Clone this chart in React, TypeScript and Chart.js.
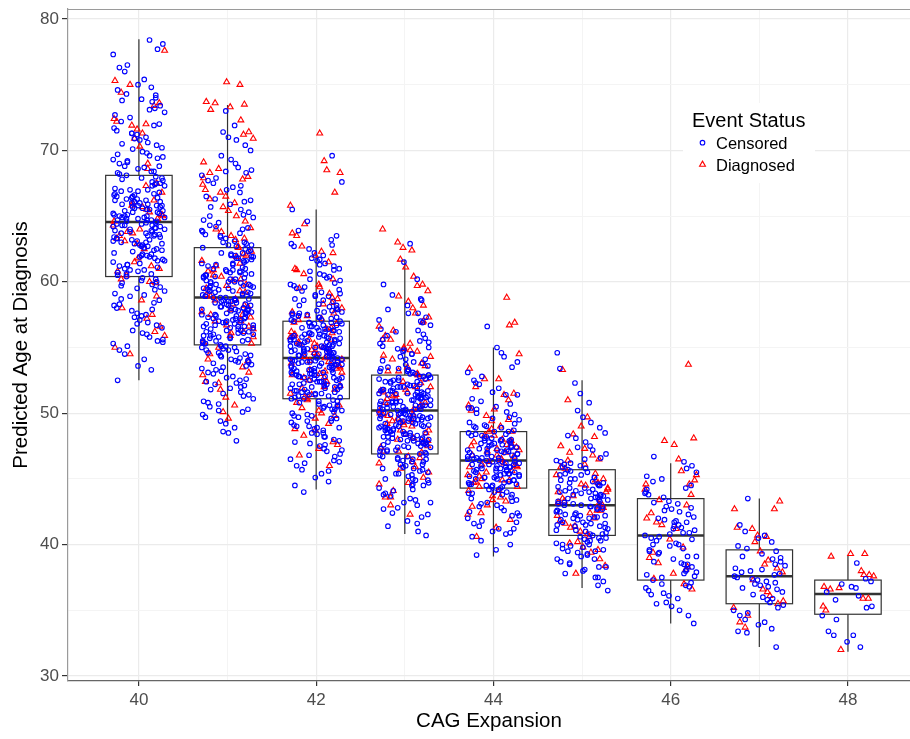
import React, { useEffect, useRef } from 'react';
import { Chart, registerables } from 'chart.js';

Chart.register(...registerables);

const FONT = "'Liberation Sans', Arial, Helvetica, sans-serif";

const CATEGORIES = [40, 41, 42, 43, 44, 45, 46, 47, 48];
const BOX_LOWER = [52.5, 49.2, 44.2, 40.8, 39.1, 36.7, 34.0, 32.2, 31.85];
const BOX_Q1 = [60.4, 55.2, 51.1, 46.9, 44.3, 40.7, 37.3, 35.5, 34.7];
const BOX_MEDIAN = [64.55, 58.8, 54.2, 50.2, 46.4, 43.0, 40.7, 37.6, 36.25];
const BOX_Q3 = [68.1, 62.6, 57.0, 52.9, 48.6, 45.7, 43.5, 39.6, 37.3];
const BOX_UPPER = [78.45, 73.45, 65.5, 61.7, 55.0, 52.5, 46.2, 43.5, 39.2];

const X_TICKS = [40, 42, 44, 46, 48];
const Y_TICKS = [30, 40, 50, 60, 70, 80];

// hand-read horizontal jitter offsets (in CAG units)
const JITTER = [0.12, -0.25, 0.03, 0.27, -0.08, -0.19, 0.21, -0.02, 0.15, -0.29, 0.08, 0.24, -0.13, -0.05, 0.18, -0.22, 0.01, 0.29, -0.16, 0.1, -0.27, 0.06, 0.2, -0.1, -0.01, 0.26, -0.2, 0.14, -0.07, 0.23, -0.24, 0.04, 0.17, -0.14, 0.09, -0.28, 0.19];

const CENSORED_40 = [78.4,78.1,77.7,77.3,76.5,76.3,76.0,75.4,75.0,74.8,74.6,74.3,74.2,73.9,73.8,73.7,73.4,73.2,72.9,72.7,72.5,72.2,72.0,71.9,71.7,71.5,71.3,71.2,71.0,70.9,70.8,70.6,70.4,70.2,70.1,69.9,69.8,69.6,69.5,69.4,69.3,69.1,69.0,68.8,68.7,68.6,68.4,68.3,68.1,68.0,67.9,67.8,67.6,67.5,67.4,67.3,67.1,67.0,66.9,66.8,66.7,66.6,66.5,66.4,66.3,66.2,66.1,66.0,65.9,65.8,65.8,65.7,65.6,65.5,65.5,65.4,65.3,65.2,65.1,65.0,65.0,64.9,64.8,64.7,64.7,64.6,64.5,64.4,64.3,64.3,64.2,64.1,64.0,63.9,63.8,63.7,63.6,63.5,63.4,63.3,63.2,63.1,63.0,62.9,62.8,62.7,62.5,62.4,62.3,62.1,62.0,61.9,61.7,61.6,61.5,61.3,61.2,61.0,60.9,60.8,60.6,60.5,60.4,60.2,60.1,59.9,59.8,59.6,59.4,59.3,59.1,58.9,58.7,58.6,58.4,58.2,58.0,57.8,57.6,57.5,57.3,57.1,56.9,56.7,56.5,56.3,56.1,56.0,55.8,55.6,55.5,55.3,55.1,54.8,54.5,54.1,53.6,53.3,52.5];
const CENSORED_40_MORE = [66.3,64.1,62.7,65.9,67.3,63.4,61.8,64.9,66.7,60.9,63.0,65.2,68.4,62.2,64.4,66.0,59.5,63.7,65.6,61.4,67.0,64.6,62.9,66.5,60.3,65.0,63.2,67.7,61.1,64.2,69.2,58.3,65.4,62.6,66.9,63.9,60.7,64.8,67.5,62.0,70.5,57.9,65.7,63.6,61.6,66.2,64.0,59.7,68.8,62.4,65.1,63.3,71.3,56.8,64.5,66.6,61.9,63.5,60.0,67.9,65.3,62.8,64.7,73.1,55.4,66.4,63.1,61.3,68.2,64.3,59.0,65.8,62.1,69.7,60.6,74.0,57.4,64.9,63.8,66.1];
const DIAGNOSED_40 = [77.6,75.3,75.0,74.4,73.6,73.4,72.4,72.2,71.9,71.6,72.0,70.9,70.3,68.6,67.5,66.8,66.0,65.7,65.5,65.3,65.0,64.8,64.3,63.8,63.5,63.1,62.5,61.8,61.2,60.8,60.5,59.9,58.6,58.0,57.5,56.6,56.2,55.9,55.0,54.5,60.2,61.0];
const DIAGNOSED_40_MORE = [66.2,64.6,63.3,65.8,62.9,67.3,61.5,64.0,69.0,58.9,65.1,63.7,71.3,57.2,60.0];

const CENSORED_41 = [73.0,71.9,71.4,71.0,70.8,70.4,70.0,69.6,69.3,69.0,68.7,68.5,68.3,68.1,67.9,67.7,67.5,67.2,67.0,66.8,66.5,66.3,66.1,65.9,65.7,65.5,65.3,65.1,64.9,64.7,64.5,64.3,64.1,64.0,63.8,63.6,63.5,63.3,63.1,63.0,62.8,62.7,62.5,62.4,62.2,62.1,62.0,61.8,61.7,61.6,61.4,61.3,61.2,61.0,60.9,60.8,60.7,60.5,60.4,60.3,60.2,60.0,59.9,59.8,59.7,59.6,59.5,59.4,59.3,59.2,59.1,59.0,58.9,58.8,58.8,58.7,58.6,58.5,58.4,58.3,58.2,58.1,58.0,57.9,57.8,57.7,57.6,57.5,57.4,57.3,57.2,57.1,57.0,56.9,56.8,56.7,56.6,56.5,56.4,56.3,56.2,56.1,56.0,55.9,55.8,55.7,55.6,55.5,55.4,55.3,55.2,55.1,55.0,54.9,54.8,54.7,54.5,54.4,54.3,54.1,54.0,53.9,53.7,53.6,53.4,53.3,53.1,53.0,52.8,52.7,52.5,52.4,52.2,52.1,51.9,51.8,51.6,51.4,51.3,51.1,50.9,50.7,50.5,50.3,50.1,49.9,49.7,49.4,49.2,48.9,48.6,48.5,47.9,60.6,59.7,58.5,57.8,57.2,56.6,61.9,62.9,63.9,55.5,54.6,53.8];
const CENSORED_41_MORE = [59.3,57.6,60.8,56.2,58.4,61.5,55.8,59.9,57.1,62.3,58.0,56.7,60.3,54.6,59.6,57.8,61.1,55.5,58.9,63.4,56.9,60.0,53.5,58.2,61.8,57.3,59.1,55.1,62.0,58.6,56.4,60.6,52.6,57.9,64.2,59.4,56.0,61.3,58.3,54.2,60.1,57.5,63.0,55.7,59.7,52.0,58.7,61.6,56.5,60.4,57.0,65.0,54.0,59.0,62.6,55.3,58.1,60.9,56.8,51.5,59.5,57.4,61.0,66.2,53.2,58.5,60.2,56.1,62.8,57.7,55.0,59.8,50.8,58.8,61.4,56.3,63.7,54.8,59.2,57.2,60.7,55.9,67.3,53.9,58.0,61.9,56.6,50.2,59.3,57.9,62.2,55.4,60.5,54.4,68.4,58.6,56.9,60.0,52.3,57.6];
const DIAGNOSED_41 = [75.2,75.0,73.7,73.6,73.5,73.3,73.1,72.3,71.4,71.2,70.9,69.1,68.6,68.3,68.0,67.8,67.4,67.0,66.8,66.5,66.0,65.7,65.4,65.0,64.6,64.1,63.8,63.5,63.2,62.7,62.3,62.0,61.6,61.2,60.8,60.5,60.1,59.7,59.3,59.0,58.6,58.2,57.9,57.5,57.0,56.6,56.2,55.8,55.4,55.0,54.5,54.0,53.5,52.9,52.4,51.8,51.2,50.6,50.1,49.6];
const DIAGNOSED_41_MORE = [61.9,59.2,57.3,60.4,56.1,58.7,62.6,55.3,59.8,57.7,64.0,54.1,60.9,58.3,56.7,61.4,59.5,57.0,63.3,55.9,58.9,60.2,53.1,62.1,56.4,67.9,52.3,66.3,58.1,57.5];

const CENSORED_42 = [69.6,67.6,65.5,64.6,63.9,63.5,63.2,62.9,62.7,62.5,62.2,62.0,61.8,61.6,61.4,61.2,61.0,60.8,60.6,60.5,60.3,60.1,59.9,59.8,59.6,59.5,59.3,59.2,59.0,58.9,58.7,58.6,58.5,58.3,58.2,58.1,57.9,57.8,57.7,57.6,57.5,57.4,57.3,57.2,57.1,57.0,56.9,56.8,56.7,56.6,56.5,56.4,56.3,56.2,56.1,56.0,55.9,55.8,55.7,55.6,55.5,55.4,55.3,55.2,55.1,55.0,54.9,54.8,54.7,54.6,54.5,54.4,54.3,54.2,54.2,54.1,54.0,53.9,53.8,53.7,53.6,53.5,53.4,53.3,53.2,53.1,53.0,52.9,52.8,52.7,52.6,52.5,52.4,52.3,52.2,52.1,52.0,51.9,51.8,51.7,51.6,51.5,51.4,51.3,51.2,51.1,51.0,50.9,50.8,50.6,50.5,50.3,50.2,50.0,49.9,49.7,49.6,49.4,49.3,49.1,49.0,48.8,48.7,48.5,48.4,48.2,48.0,47.9,47.7,47.5,47.3,47.1,46.9,46.7,46.5,46.2,46.0,45.7,45.4,45.1,44.8,44.5,44.0,56.3,55.8,55.2,54.7,53.9,53.3,52.7,52.2,51.6,57.4,58.0,54.5,53.1,55.6,56.9,52.9,50.4,49.8,48.9,47.6,46.4,59.4,60.2,61.3,57.7,54.9,51.2,53.7,55.1];
const CENSORED_42_MORE = [54.5,53.2,55.8,52.4,54.0,56.4,51.7,54.9,53.5,57.3,52.8,55.2,50.6,54.3,56.8,53.0,55.5,51.3,58.2,53.8,54.7,49.8,56.1,52.6,55.0,53.3,57.8,51.9,54.6,48.9,56.6,53.6,52.1,55.4,59.1,50.3,54.1,56.0,52.9,53.9,57.1,51.5,55.7,47.8,54.8,53.1,56.3,52.2,60.4,50.9,55.1,53.7,57.5,49.4,54.4,52.5,56.9,51.1,55.9,46.8,53.4,58.6,52.0,54.2,56.2,50.1,55.3,53.0,61.7,48.2,54.7,57.0,51.6,55.6,52.7,49.0,56.5,53.8,58.9,45.6,54.0,52.3,55.2,50.7,57.6,53.5,51.8,62.8,47.2,55.8,54.9,52.8,56.7,49.6,53.6,59.7,51.4,54.5,48.5,56.0,52.4,55.0,60.9,46.3,53.9,57.3,50.5,54.3,52.0,55.5];
const DIAGNOSED_42 = [71.3,69.2,68.5,68.3,66.8,65.8,64.4,63.5,62.7,62.3,62.0,61.5,61.0,60.6,60.2,59.8,59.5,59.1,58.7,58.4,58.0,57.7,57.4,57.1,56.8,56.5,56.2,55.9,55.6,55.3,55.0,54.8,54.5,54.2,53.9,53.6,53.3,53.0,52.7,52.4,52.1,51.8,51.5,51.2,50.8,50.4,50.0,49.6,49.2,48.8,48.3,47.8,47.3,46.8,46.0,57.9,56.1,54.1,52.9,51.0,55.4,53.4];
const DIAGNOSED_42_MORE = [55.6,53.8,56.9,52.5,54.6,58.3,51.4,55.1,53.2,57.6,50.6,54.0,59.6,52.0,56.4,53.5,49.8,55.8,54.3,60.9,51.9,57.2,48.7,53.9,56.0,52.7,62.2,50.2,55.3,54.8,47.6,58.8,53.1,63.7,51.1];

const CENSORED_43 = [62.9,61.5,60.2,59.8,59.0,58.6,58.2,57.9,57.6,57.3,57.0,56.7,56.4,56.2,55.9,55.7,55.5,55.3,55.1,54.9,54.7,54.5,54.3,54.1,53.9,53.8,53.6,53.4,53.3,53.1,53.0,52.9,52.8,52.6,52.5,52.4,52.3,52.1,52.0,51.9,51.8,51.7,51.6,51.5,51.4,51.3,51.2,51.1,51.0,50.9,50.8,50.7,50.6,50.5,50.4,50.3,50.2,50.2,50.1,50.0,49.9,49.8,49.7,49.6,49.5,49.4,49.3,49.2,49.1,49.0,48.9,48.8,48.7,48.6,48.5,48.4,48.3,48.2,48.1,48.0,47.9,47.8,47.7,47.6,47.5,47.4,47.3,47.2,47.1,47.0,46.9,46.8,46.7,46.6,46.4,46.3,46.1,46.0,45.8,45.7,45.5,45.4,45.2,45.0,44.9,44.7,44.5,44.3,44.1,43.9,43.7,43.5,43.2,43.0,42.7,42.4,42.1,41.8,41.4,41.0,40.7,51.4,50.6,49.8,49.1,48.5,47.7,52.2,53.2,54.0,46.5,45.9,45.3,50.9,50.3,49.6,48.1,51.7,52.7,47.4,44.6,43.4,55.4,56.0,57.1];
const CENSORED_43_MORE = [50.5,49.2,51.7,48.3,50.0,52.4,47.6,50.9,49.5,53.2,48.8,51.2,46.5,50.3,52.7,49.0,51.5,47.2,54.1,49.8,50.7,45.8,52.0,48.6,51.0,49.3,53.7,47.9,50.6,44.9,52.5,49.6,48.1,51.4,55.0,46.3,50.1,51.9,48.9,49.9,53.0,47.5,51.6,43.8,50.8,49.1,52.2,48.2,56.3,46.9,51.1,49.7,53.4,45.4,50.4,48.5,52.8,47.1,51.8,42.8,49.4,54.5,48.0,50.2,52.1,46.1,51.3,49.0,57.6,44.2,50.6,52.9,47.7,51.5,48.7,45.0,52.4,49.8,54.8,41.6,50.0,48.4,51.2,46.7,53.5,49.5,47.8,58.7,43.2,51.7,50.9,48.8,52.6,45.6,49.6,55.6,47.4,50.5,44.5,52.0,48.4,51.0,56.9,42.3,49.9,53.3,46.5,50.3,48.0,51.5];
const DIAGNOSED_43 = [64.0,63.0,62.6,62.4,61.7,61.1,60.4,59.8,59.3,58.9,58.5,58.0,57.6,57.3,57.0,56.6,56.3,55.9,55.6,55.3,55.0,54.7,54.4,54.1,53.8,53.5,53.2,52.9,52.6,52.3,52.0,51.7,51.4,51.1,50.8,50.5,50.2,49.9,49.6,49.3,49.0,48.7,48.4,48.1,47.8,47.5,47.1,46.7,46.3,45.9,45.5,45.1,44.6,44.1,43.6,43.0,42.3,54.9,53.0,51.6,49.4,47.0];
const DIAGNOSED_43_MORE = [51.6,49.8,52.9,48.5,50.6,54.3,47.4,51.1,49.2,53.6,46.6,50.0,55.6,48.0,52.4,49.5,45.8,51.8,50.3,56.9,47.9,53.2,44.7,49.9,52.0,48.7,58.2,46.2,51.3,50.8,43.6,54.8,49.1,59.7,47.1];

const CENSORED_44 = [56.6,55.0,54.6,54.3,53.9,53.5,53.1,52.8,52.5,52.2,51.9,51.6,51.4,51.1,50.9,50.7,50.5,50.3,50.1,49.9,49.7,49.5,49.3,49.1,48.9,48.7,48.6,48.5,48.3,48.2,48.1,47.9,47.8,47.7,47.6,47.5,47.4,47.3,47.2,47.1,47.0,46.9,46.8,46.7,46.6,46.5,46.4,46.4,46.3,46.2,46.1,46.0,45.9,45.8,45.7,45.6,45.5,45.4,45.3,45.2,45.1,45.0,44.9,44.8,44.7,44.6,44.5,44.4,44.3,44.2,44.0,43.8,43.6,43.4,43.2,43.0,42.8,42.6,42.4,42.2,42.0,41.8,41.6,41.4,41.2,41.0,40.8,40.6,40.3,40.0,39.6,39.2,47.2,46.6,45.9,45.2,44.6,47.9,48.4,46.1,45.4,43.9,50.4,49.0];
const CENSORED_44_MORE = [46.7,45.8,47.5,45.1,46.3,48.0,44.6,47.0,46.0,48.9,45.4,46.9,43.8,46.5,48.3,45.6,47.3,44.2,49.6,45.9,46.8,43.1,47.8,45.2,46.6,45.7,49.2,44.8,46.2,42.5,48.1,45.5,44.9,47.1,50.4,43.5,46.4,47.6,45.3,46.1,48.6,44.4,47.4,41.7,46.9,45.0,48.0,44.7,51.4,43.3,47.2,45.8,49.0,42.9,46.6,44.5,48.4,43.9,47.7,40.9,45.6,50.0,44.0,46.3,47.9,42.2,47.0,45.1,52.3,41.2];
const DIAGNOSED_44 = [58.8,56.9,56.7,54.5,53.4,52.6,52.0,51.5,51.0,50.6,50.2,49.8,49.4,49.0,48.6,48.3,48.0,47.7,47.4,47.1,46.8,46.5,46.2,45.9,45.6,45.3,45.0,44.7,44.4,44.1,43.7,43.3,42.9,42.4,41.9,41.3,40.6,47.6,46.0,44.9];
const DIAGNOSED_44_MORE = [47.2,45.9,48.3,44.8,46.7,49.5,44.1,47.5,45.5,48.8,43.6,46.3,50.3,44.9,47.9,46.0,43.0,47.3,46.5,51.4,44.4,48.6,42.3,46.1,47.8,45.2,52.6,43.4,47.0,46.8];

const CENSORED_45 = [54.6,53.4,52.3,51.5,50.8,50.2,49.7,49.3,48.9,48.5,48.1,47.8,47.5,47.2,46.9,46.6,46.4,46.2,45.9,45.7,45.5,45.3,45.1,44.9,44.7,44.5,44.3,44.1,43.9,43.7,43.6,43.4,43.3,43.1,43.0,42.9,42.8,42.6,42.5,42.3,42.2,42.0,41.9,41.7,41.6,41.4,41.3,41.1,41.0,40.8,40.7,40.5,40.3,40.1,39.9,39.7,39.5,39.3,39.1,38.9,38.7,38.5,38.3,38.1,37.8,37.5,37.2,36.9,36.5,44.4,43.8,43.2,42.7,42.1,41.5,44.0,45.0,46.0,40.0,39.4,38.0,43.5];
const CENSORED_45_MORE = [43.3,42.2,44.1,41.5,42.9,44.8,40.9,43.7,42.5,45.6,41.7,43.5,40.2,43.0,45.1,41.9,44.3,40.5,46.5,42.3,43.6,39.6,44.6,41.2,43.1,42.0,46.1,40.8,42.7,38.9,45.3,41.4,40.6,44.0,47.4,39.8,42.9,44.5,41.6,42.4,45.8,40.3,44.2,38.3,43.8,41.1,45.0,40.0,48.3,39.2,43.9,42.1,46.3,38.6,43.4,40.4,45.4,39.5,44.7,37.5];
const DIAGNOSED_45 = [53.3,51.0,49.7,49.0,48.2,47.5,47.0,46.5,46.1,45.8,45.4,45.0,44.7,44.3,44.0,43.7,43.3,43.0,42.6,42.2,41.8,41.4,41.0,40.6,40.2,39.8,39.4,38.9,38.4,37.8,44.5,42.4,46.8];
const DIAGNOSED_45_MORE = [44.0,42.6,45.3,41.3,43.5,46.4,40.8,44.6,42.0,45.9,40.1,43.1,47.3,41.6,44.9,42.8,39.6,44.2,43.2,48.4];

const CENSORED_46 = [46.7,46.3,46.0,45.8,45.5,45.2,45.0,44.8,44.5,44.3,44.0,43.8,43.6,43.3,43.1,42.9,42.7,42.5,42.3,42.1,41.9,41.7,41.5,41.3,41.1,40.9,40.7,40.6,40.5,40.3,40.1,39.9,39.7,39.5,39.3,39.1,38.9,38.7,38.5,38.3,38.1,37.9,37.7,37.5,37.3,37.1,36.9,36.7,36.5,36.3,36.1,35.9,35.6,35.3,35.0,34.6,34.0,42.6,41.4,40.0,38.6,37.6,36.8,43.9,39.4,36.2,35.5,41.8,40.8];
const CENSORED_46_MORE = [40.9,39.6,42.0,38.5,41.2,43.2,37.8,40.4,41.7,39.1,44.2,37.0,40.0,42.8,38.0];
const DIAGNOSED_46 = [53.7,48.1,47.9,47.6,46.5,45.6,44.9,44.6,44.2,43.4,42.4,41.7,41.2,40.4,39.8,39.0,38.6,38.3,37.8,37.4,37.0,36.6,43.0,45.3,42.0];
const DIAGNOSED_46_MORE = [41.5,39.4,43.8,38.1,44.6];

const CENSORED_47 = [43.5,41.5,41.0,40.7,40.5,40.2,39.9,39.7,39.5,39.3,39.1,38.9,38.7,38.5,38.4,38.2,38.0,37.9,37.8,37.7,37.6,37.5,37.4,37.3,37.2,37.0,36.9,36.8,36.6,36.4,36.2,36.0,35.8,35.6,35.4,35.2,35.0,34.8,34.6,34.3,34.1,33.9,33.6,33.4,33.3,32.2,38.1,36.7,35.9,39.0,37.1];
const DIAGNOSED_47 = [43.3,42.7,42.7,41.3,41.2,40.7,40.6,40.2,39.5,38.8,38.2,37.9,37.3,36.6,36.4,36.1,35.7,35.5,35.2,34.6,34.1,33.7,38.5];

const CENSORED_48 = [38.6,37.4,37.2,37.0,36.8,36.7,36.1,35.3,35.2,34.6,34.3,33.4,33.1,33.1,32.6,32.2,36.4,35.8];
const DIAGNOSED_48 = [39.3,39.3,39.1,38.0,37.7,37.7,37.6,36.8,36.7,36.6,35.9,35.9,35.3,35.0,32.0];

const CENSORED_GROUPS = [
  [...CENSORED_40, ...CENSORED_40_MORE],
  [...CENSORED_41, ...CENSORED_41_MORE],
  [...CENSORED_42, ...CENSORED_42_MORE],
  [...CENSORED_43, ...CENSORED_43_MORE],
  [...CENSORED_44, ...CENSORED_44_MORE],
  [...CENSORED_45, ...CENSORED_45_MORE],
  [...CENSORED_46, ...CENSORED_46_MORE],
  CENSORED_47,
  CENSORED_48,
];
const DIAGNOSED_GROUPS = [
  [...DIAGNOSED_40, ...DIAGNOSED_40_MORE],
  [...DIAGNOSED_41, ...DIAGNOSED_41_MORE],
  [...DIAGNOSED_42, ...DIAGNOSED_42_MORE],
  [...DIAGNOSED_43, ...DIAGNOSED_43_MORE],
  [...DIAGNOSED_44, ...DIAGNOSED_44_MORE],
  [...DIAGNOSED_45, ...DIAGNOSED_45_MORE],
  [...DIAGNOSED_46, ...DIAGNOSED_46_MORE],
  DIAGNOSED_47,
  DIAGNOSED_48,
];

function buildPoints(groups: number[][], shift: number) {
  const pts: { x: number; y: number }[] = [];
  groups.forEach((vals, g) => {
    vals.forEach((y, i) => {
      const j = JITTER[(i * 3 + g * 7 + shift) % JITTER.length];
      pts.push({ x: CATEGORIES[g] + j, y });
    });
  });
  return pts;
}

const boxPlugin = {
  id: 'boxes',
  beforeDatasetsDraw(chart: any) {
    const { ctx, scales } = chart;
    const xs = scales.x;
    const ys = scales.y;
    ctx.save();
    CATEGORIES.forEach((c, i) => {
      const cx = xs.getPixelForValue(c);
      const left = xs.getPixelForValue(c - 0.375);
      const right = xs.getPixelForValue(c + 0.375);
      const yLo = ys.getPixelForValue(BOX_LOWER[i]);
      const yQ1 = ys.getPixelForValue(BOX_Q1[i]);
      const yMed = ys.getPixelForValue(BOX_MEDIAN[i]);
      const yQ3 = ys.getPixelForValue(BOX_Q3[i]);
      const yHi = ys.getPixelForValue(BOX_UPPER[i]);
      ctx.strokeStyle = '#333333';
      ctx.lineWidth = 1.2;
      ctx.beginPath();
      ctx.moveTo(cx, yHi);
      ctx.lineTo(cx, yQ3);
      ctx.moveTo(cx, yQ1);
      ctx.lineTo(cx, yLo);
      ctx.stroke();
      ctx.fillStyle = '#ffffff';
      ctx.fillRect(left, yQ3, right - left, yQ1 - yQ3);
      ctx.strokeRect(left, yQ3, right - left, yQ1 - yQ3);
      ctx.lineWidth = 2.5;
      ctx.beginPath();
      ctx.moveTo(left, yMed);
      ctx.lineTo(right, yMed);
      ctx.stroke();
    });
    ctx.restore();
  },
};

const decorPlugin = {
  id: 'decor',
  afterDraw(chart: any) {
    const { ctx, chartArea } = chart;
    ctx.save();
    // panel border top
    ctx.strokeStyle = '#9a9a9a';
    ctx.lineWidth = 1.2;
    ctx.beginPath();
    ctx.moveTo(chartArea.left, chartArea.top + 0.5);
    ctx.lineTo(chartArea.right, chartArea.top + 0.5);
    ctx.stroke();

    // axis titles
    ctx.fillStyle = '#000000';
    ctx.font = `20.5px ${FONT}`;
    ctx.textAlign = 'center';
    ctx.textBaseline = 'middle';
    ctx.fillText('CAG Expansion', (chartArea.left + chartArea.right) / 2, 721);
    ctx.save();
    ctx.translate(21, (chartArea.top + chartArea.bottom) / 2);
    ctx.rotate(-Math.PI / 2);
    ctx.fillText('Predicted Age at Diagnosis', 0, 0);
    ctx.restore();

    // legend
    ctx.fillStyle = '#ffffff';
    ctx.fillRect(683, 103, 132, 80);
    ctx.fillStyle = '#000000';
    ctx.textAlign = 'left';
    ctx.textBaseline = 'alphabetic';
    ctx.font = `20px ${FONT}`;
    ctx.fillText('Event Status', 692, 126.5);
    ctx.font = `16.5px ${FONT}`;
    ctx.fillText('Censored', 716, 149);
    ctx.fillText('Diagnosed', 716, 171);
    ctx.lineWidth = 1.1;
    ctx.strokeStyle = 'blue';
    ctx.beginPath();
    ctx.arc(702.5, 142.7, 2.3, 0, Math.PI * 2);
    ctx.stroke();
    ctx.strokeStyle = 'red';
    ctx.beginPath();
    const r = 3.4;
    const tx = 702.5, ty = 164.5;
    ctx.moveTo(tx, ty - r);
    ctx.lineTo(tx + r * 0.866, ty + r * 0.5);
    ctx.lineTo(tx - r * 0.866, ty + r * 0.5);
    ctx.closePath();
    ctx.stroke();
    ctx.restore();
  },
};

export default function App() {
  const ref = useRef<HTMLCanvasElement>(null);
  useEffect(() => {
    if (!ref.current) return;
    const chart = new Chart(ref.current, {
      type: 'scatter',
      data: {
        datasets: [
          {
            label: 'Censored',
            data: buildPoints(CENSORED_GROUPS, 0),
            pointStyle: 'circle',
            pointRadius: 2.3,
            borderWidth: 1.1,
            borderColor: 'blue',
            backgroundColor: 'rgba(0,0,0,0)',
          },
          {
            label: 'Diagnosed',
            data: buildPoints(DIAGNOSED_GROUPS, 17),
            pointStyle: 'triangle',
            pointRadius: 3.4,
            borderWidth: 1.1,
            borderColor: 'red',
            backgroundColor: 'rgba(0,0,0,0)',
          },
        ],
      },
      options: {
        animation: false,
        responsive: false,
        devicePixelRatio: 1,
        layout: { padding: { top: 9, right: 0, left: 0, bottom: 0 }, autoPadding: false },
        plugins: { legend: { display: false }, tooltip: { enabled: false } },
        scales: {
          x: {
            type: 'linear',
            min: 39.2,
            max: 48.7,
            afterFit: (s: any) => { s.height = 58; s.paddingLeft = 0; s.paddingRight = 0; },
            ticks: {
              stepSize: 1,
              includeBounds: false,
              autoSkip: false,
              maxRotation: 0,
              padding: 4,
              color: '#4D4D4D',
              font: { family: FONT, size: 17 },
              callback: (v: any) => (X_TICKS.includes(Number(v)) ? String(v) : ''),
            },
            grid: {
              color: (c: any) => (c.tick && X_TICKS.includes(c.tick.value) ? '#ebebeb' : '#f4f4f4'),
              lineWidth: (c: any) => (c.tick && X_TICKS.includes(c.tick.value) ? 1.2 : 1),
              tickColor: (c: any) => (c.tick && X_TICKS.includes(c.tick.value) ? '#333333' : 'rgba(0,0,0,0)'),
              tickLength: 5,
            },
            border: { display: true, color: '#666666', width: 1.2 },
          },
          y: {
            type: 'linear',
            min: 29.62,
            max: 80.76,
            afterFit: (s: any) => { s.width = 68; s.paddingTop = 0; s.paddingBottom = 0; },
            ticks: {
              stepSize: 5,
              includeBounds: false,
              autoSkip: false,
              padding: 3,
              color: '#4D4D4D',
              font: { family: FONT, size: 17 },
              callback: (v: any) => (Y_TICKS.includes(Number(v)) ? String(v) : ''),
            },
            grid: {
              color: (c: any) => (c.tick && Y_TICKS.includes(c.tick.value) ? '#ebebeb' : '#f4f4f4'),
              lineWidth: (c: any) => (c.tick && Y_TICKS.includes(c.tick.value) ? 1.2 : 1),
              tickColor: (c: any) => (c.tick && Y_TICKS.includes(c.tick.value) ? '#333333' : 'rgba(0,0,0,0)'),
              tickLength: 6,
            },
            border: { display: true, color: '#9a9a9a', width: 1.2 },
          },
        },
      },
      plugins: [boxPlugin, decorPlugin],
    });
    return () => chart.destroy();
  }, []);
  return (
    <div style={{ position: 'fixed', left: 0, top: 0, width: 910, height: 739, background: '#fff' }}>
      <canvas ref={ref} width={910} height={739} style={{ width: 910, height: 739, display: 'block' }} />
    </div>
  );
}
